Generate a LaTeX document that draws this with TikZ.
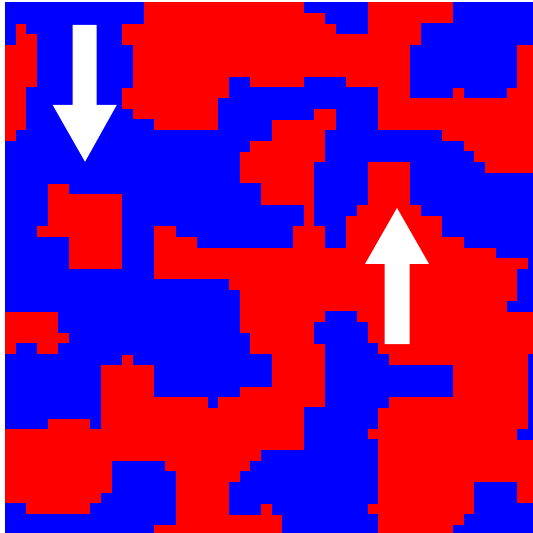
\documentclass[tikz,border=0pt]{standalone}
\definecolor{cred}{RGB}{255,0,0}
\definecolor{cblue}{RGB}{0,0,255}
\tikzset{spinup/.style={fill=cblue}, arrowfill/.style={fill=white}}
\begin{document}
\begin{tikzpicture}[x=0.5pt,y=-0.5pt]
\useasboundingbox (0,0) rectangle (533,533);
\fill[white] (0,0) rectangle (533,533);
\begin{scope}
\clip (0,0) rectangle (533,533);
\fill[cred] (5,2) rectangle (540,540);
\foreach \r/\runs in {
0/{0/12,28/33,42/49},
1/{0/12,30/33,42/49},
2/{0/0,2/10,31/33,39/49},
3/{0/0,3/10,39/49},
4/{3/11,38/47},
5/{3/11,38/47},
6/{3/11,38/47},
7/{3/11,21/22,28/31,38/47},
8/{2/10,21/34,38/41,43/46},
9/{2/10,20/34},
10/{2/11,20/28,31/34},
11/{2/13,20/24,31/34},
12/{1/24,30/40},
13/{0/22,30/42},
14/{0/21,30/43},
15/{0/21,29/33,38/44},
16/{0/21,29/33,38/49},
17/{0/3,6/23,29/33,38/49},
18/{0/3,11/23,29/33,38/49},
19/{0/3,11/27,29/32,39/49},
20/{0/3,11/27,29/31,41/49},
21/{0/2,11/13,16/26,30/31,41/49},
22/{0/5,11/13,18/26,30/31,43/49},
23/{0/5,11/13,46/49},
24/{0/5,11/13,49/49},
25/{0/13,48/49},
26/{0/20,48/49},
27/{0/21,48/49},
28/{0/21,47/49},
29/{5/21,30/32},
30/{5/21,29/33},
31/{6/22,29/33},
32/{1/2,5/22,30/34},
33/{0/10,12/24,30/35,49/49},
34/{0/8,14/24,30/41,49/49},
35/{0/8,14/24,30/41,49/49},
36/{0/8,14/21,30/41,49/49},
37/{0/8,19/19,30/35,49/49},
38/{0/8,28/34,49/49},
39/{0/3,8/8,28/34,49/49},
40/{28/33,48/49},
41/{28/34},
42/{24/34},
43/{10/14,23/34},
44/{10/15,22/34},
45/{10/15,21/34,44/47},
46/{9/15,21/34,44/47},
47/{0/1,8/15,21/23,25/33,44/49},
48/{0/15,26/34,43/49},
49/{0/13,26/34,42/49}}{
  \foreach \a/\b in \runs {
    \fill[spinup] ({5+10.67*\a},{2+10.67*\r}) rectangle ({5+10.67*(\b+1)},{2+10.67*(\r+1)+0.4});
  }
}
\end{scope}
% down arrow
\fill[arrowfill] (72.7,25) -- (96.7,25) -- (96.7,105) -- (116.7,105) -- (85,161.7) -- (52.7,105) -- (72.7,105) -- cycle;
% up arrow
\fill[arrowfill] (384.5,344) -- (409.5,344) -- (409.5,264) -- (429,264) -- (397,208) -- (365,264) -- (384.5,264) -- cycle;
\end{tikzpicture}
\end{document}
